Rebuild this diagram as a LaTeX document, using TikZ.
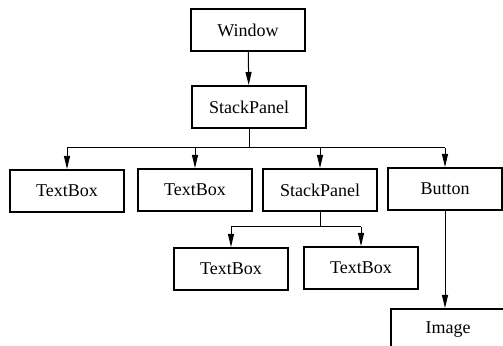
\documentclass[tikz,border=0pt]{standalone}
\usepackage{fontspec}
\setmainfont{Liberation Serif}
\usetikzlibrary{arrows.meta, positioning}

\begin{document}
\begin{tikzpicture}[
    x=0.5pt, y=-0.5pt,
    elem/.style={draw, line width=1pt, minimum width=57pt, minimum height=21pt, inner sep=0pt, font=\fontsize{9}{11}\selectfont},
    arrow/.style={-{Triangle[length=6.5pt, width=3pt]}, line width=0.5pt}
]
    \useasboundingbox (0,0) rectangle (503,346);
    \clip (0,0) rectangle (503,346);

    % Nodes - top
    \node[elem] (window) at (248,30) {Window};
    \node[elem] (panel) at (249,107) {StackPanel};

    % Nodes - children of the panel
    \node[elem] (textA) at (67,191) {TextBox};
    \node[elem] (textB) at (195,190) {TextBox};
    \node[elem] (subpanel) at (320,190) {StackPanel};
    \node[elem] (button) at (445,189) {Button};

    % Nodes - bottom
    \node[elem] (textC) at (231,269) {TextBox};
    \node[elem] (textD) at (361,268) {TextBox};
    \node[elem] (image) at (448,330) {Image};

    % Branch points
    \coordinate (fork) at (panel.south |- 0,148);
    \coordinate (subfork) at (subpanel.south |- 0,227);

    % Arrows
    \draw[arrow] (window) -- (panel);
    \draw[line width=0.5pt] (panel) -- (fork);
    \draw[line width=0.5pt] (textA.north |- fork) -- (button.north |- fork);
    \foreach \child in {textA, textB, subpanel, button}
        \draw[arrow] (\child.north |- fork) -- (\child);
    \draw[line width=0.5pt] (subpanel) -- (subfork);
    \draw[line width=0.5pt] (textC.north |- subfork) -- (textD.north |- subfork);
    \foreach \child in {textC, textD}
        \draw[arrow] (\child.north |- subfork) -- (\child);
    \draw[arrow] (button) -- (button |- image.north);
\end{tikzpicture}
\end{document}
